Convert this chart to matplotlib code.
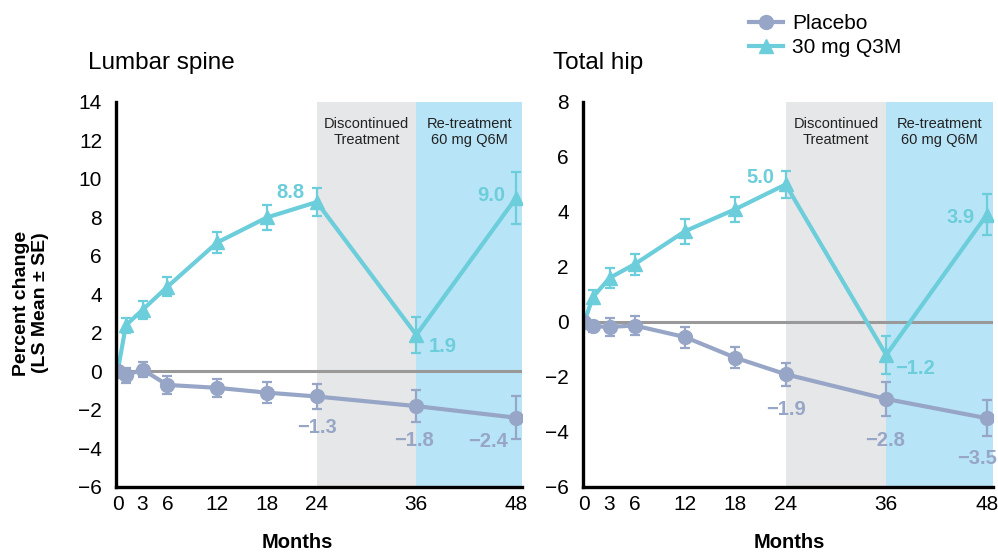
import numpy as np
import matplotlib
matplotlib.use("Agg")
import matplotlib.pyplot as plt
from matplotlib.lines import Line2D

plt.rcParams['font.family'] = ['Liberation Sans', 'DejaVu Sans']

# months of each visit
months = [0, 1, 3, 6, 12, 18, 24, 36, 48]
xticks = [0, 3, 6, 12, 18, 24, 36, 48]

# lumbar spine, % change (LS mean) and SE
lumbar_drug = [0, 2.4, 3.2, 4.4, 6.7, 8.0, 8.8, 1.9, 9.0]
lumbar_drug_se = [0, 0.4, 0.45, 0.5, 0.55, 0.65, 0.75, 0.95, 1.35]
lumbar_pbo = [0, -0.2, 0.1, -0.7, -0.85, -1.1, -1.3, -1.8, -2.4]
lumbar_pbo_se = [0, 0.4, 0.37, 0.45, 0.47, 0.55, 0.67, 0.83, 1.13]

# total hip
hip_drug = [0, 0.9, 1.6, 2.1, 3.3, 4.1, 5.0, -1.2, 3.9]
hip_drug_se = [0, 0.26, 0.36, 0.38, 0.45, 0.46, 0.5, 0.69, 0.75]
hip_pbo = [0, -0.15, -0.18, -0.13, -0.55, -1.3, -1.9, -2.8, -3.5]
hip_pbo_se = [0, 0.2, 0.33, 0.36, 0.38, 0.38, 0.42, 0.62, 0.65]

# labelled points: (month index, series, text, offset in points)
lumbar_labels = [(6, 'drug', '8.8', (-19, 7)), (8, 'drug', '9.0', (-18, 2)),
                 (7, 'drug', '1.9', (19, -8)), (6, 'pbo', '\u22121.3', (0, -22)),
                 (7, 'pbo', '\u22121.8', (-2, -25)), (8, 'pbo', '\u22122.4', (-20, -17))]
hip_labels = [(6, 'drug', '5.0', (-18, 5)), (8, 'drug', '3.9', (-19, -2)),
              (7, 'drug', '\u22121.2', (21, -9.5)), (6, 'pbo', '\u22121.9', (0, -25.5)),
              (7, 'pbo', '\u22122.8', (-1, -30)), (8, 'pbo', '\u22123.5', (-7, -29))]

teal = '#6ccddb'
pbo_col = '#97a6c6'
grey_band = '#e6e7e8'
blue_band = '#b8e4f7'

fig = plt.figure(figsize=(9.98, 5.52), dpi=100)
ax1 = fig.add_axes([0.1162, 0.1178, 0.4065, 0.6975])
ax2 = fig.add_axes([0.5839, 0.1178, 0.4108, 0.6975])


def draw(ax, drug, drug_se, pbo, pbo_se, ylim, labels):
    ax.set_xlim(-0.2, 48.7)
    ax.set_ylim(*ylim)
    ax.axvspan(24, 36, color=grey_band, lw=0, zorder=0)
    ax.axvspan(36, 48.7, color=blue_band, lw=0, zorder=0)
    ax.plot([0, 48.7], [0, 0], color='#999999', lw=2.2, zorder=1)

    ax.errorbar(months, drug, yerr=drug_se, color=teal, lw=3, marker='^', ms=10,
                capsize=3.5, elinewidth=1.6, capthick=1.6, zorder=3)
    ax.errorbar(months, pbo, yerr=pbo_se, color=pbo_col, lw=3, marker='o', ms=10,
                capsize=3.5, elinewidth=1.6, capthick=1.6, zorder=4)

    for i, ser, txt, off in labels:
        yv = drug[i] if ser == 'drug' else pbo[i]
        col = teal if ser == 'drug' else pbo_col
        ax.annotate(txt, (months[i], yv), xytext=off, textcoords='offset points',
                    ha='center', va='center', color=col, fontsize=14.5,
                    fontweight='bold', zorder=5)

    ax.text(30, 0.922, 'Discontinued\nTreatment', transform=ax.get_xaxis_transform(),
            ha='center', va='center', fontsize=10.5, color='#222222', linespacing=1.1)
    ax.text(42.4, 0.922, 'Re-treatment\n60 mg Q6M', transform=ax.get_xaxis_transform(),
            ha='center', va='center', fontsize=10.5, color='#222222', linespacing=1.1)

    ax.set_xticks(xticks)
    ax.set_yticks(np.arange(ylim[0], ylim[1] + 1, 2))
    ax.tick_params(length=0, labelsize=15)
    ax.tick_params(axis='y', pad=10)
    ax.tick_params(axis='x', pad=6)
    for s in ['top', 'right']:
        ax.spines[s].set_visible(False)
    for s in ['left', 'bottom']:
        ax.spines[s].set_linewidth(2.4)
        ax.spines[s].set_zorder(6)


draw(ax1, lumbar_drug, lumbar_drug_se, lumbar_pbo, lumbar_pbo_se, (-6, 14), lumbar_labels)
draw(ax2, hip_drug, hip_drug_se, hip_pbo, hip_pbo_se, (-6, 8), hip_labels)

fig.text(88 / 998, 1 - 63 / 552, 'Lumbar spine', fontsize=17.5, va='center', ha='left')
fig.text(553 / 998, 1 - 63 / 552, 'Total hip', fontsize=17.5, va='center', ha='left')

fig.text(31 / 998, 1 - 303 / 552, 'Percent change\n(LS Mean \u00b1 SE)', rotation=90,
         fontsize=14, fontweight='bold', ha='center', va='center', multialignment='center')
fig.text(297 / 998, 1 - 543 / 552, 'Months', fontsize=14.5, fontweight='bold',
         ha='center', va='center')
fig.text(789 / 998, 1 - 543 / 552, 'Months', fontsize=14.5, fontweight='bold',
         ha='center', va='center')

handles = [Line2D([], [], color=pbo_col, lw=3, marker='o', ms=10),
           Line2D([], [], color=teal, lw=3, marker='^', ms=10)]
fig.legend(handles, ['Placebo', '30 mg Q3M'], loc='upper left',
           bbox_to_anchor=(745 / 998, 1 - 10 / 552), frameon=False, fontsize=15,
           handlelength=1.6, handletextpad=0.45, labelspacing=0.25, borderaxespad=0,
           borderpad=0.2)

fig.savefig('out.png', dpi=100)
